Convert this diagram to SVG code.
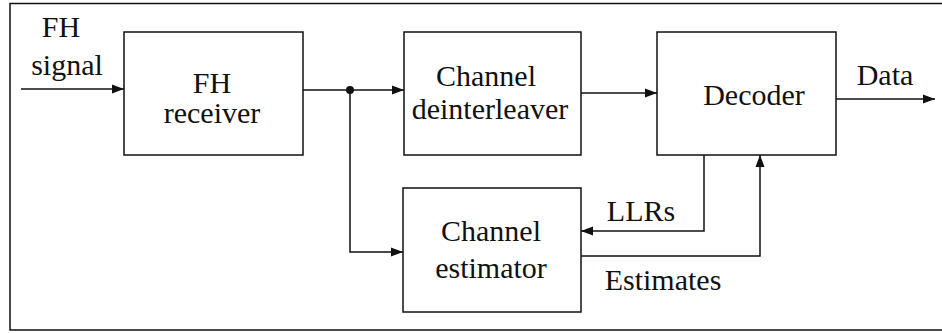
<svg xmlns="http://www.w3.org/2000/svg" width="942" height="333" viewBox="0 0 942 333">
  <defs>
    <marker id="arrow" markerUnits="userSpaceOnUse" markerWidth="12" markerHeight="12" viewBox="0 0 12 12" refX="12" refY="6" orient="auto">
      <path d="M0,1.5 L12,6 L0,10.5 Z" fill="#111"/>
    </marker>
    <style>
      .box { fill: #fff; stroke: #111; stroke-width: 1.5; }
      .wire { fill: none; stroke: #111; stroke-width: 1.5; marker-end: url(#arrow); }
      .plain { fill: none; stroke: #111; stroke-width: 1.5; }
    </style>
  </defs>

  <rect width="942" height="333" fill="#fff"/>
  <!-- outer frame, open on the right -->
  <path class="plain" d="M950 3.5 H10 V330 H950"/>

  <g font-family="'Liberation Serif', 'DejaVu Serif', serif" font-size="30" fill="#111" text-anchor="middle">
    <g id="input-label">
      <text x="61" y="37">FH</text>
      <text x="67" y="75">signal</text>
    </g>

    <g id="fh-receiver">
      <rect class="box" x="124" y="32" width="179" height="123"/>
      <text x="212" y="93">FH</text>
      <text x="212" y="123">receiver</text>
    </g>

    <g id="channel-deinterleaver">
      <rect class="box" x="404" y="32" width="177" height="123"/>
      <text x="486" y="86">Channel</text>
      <text x="490" y="119">deinterleaver</text>
    </g>

    <g id="decoder">
      <rect class="box" x="657" y="32" width="179" height="123"/>
      <text x="754" y="105">Decoder</text>
    </g>

    <g id="channel-estimator">
      <rect class="box" x="403" y="188" width="178" height="124"/>
      <text x="491" y="241">Channel</text>
      <text x="491" y="278">estimator</text>
    </g>

    <g id="connectors">
      <path class="wire" d="M21 89 H124"/>
      <path class="wire" d="M303 90 H404"/>
      <circle cx="350" cy="90" r="4" fill="#111"/>
      <path class="wire" d="M350 90 V252 H403"/>
      <path class="wire" d="M581 93 H657"/>
      <path class="wire" d="M836 99 H935"/>
      <path class="wire" d="M704 155 V231 H581"/>
      <path class="wire" d="M581 256 H760 V155"/>
      <text x="885" y="85">Data</text>
      <text x="641" y="221">LLRs</text>
      <text x="663" y="290">Estimates</text>
    </g>
  </g>
</svg>
